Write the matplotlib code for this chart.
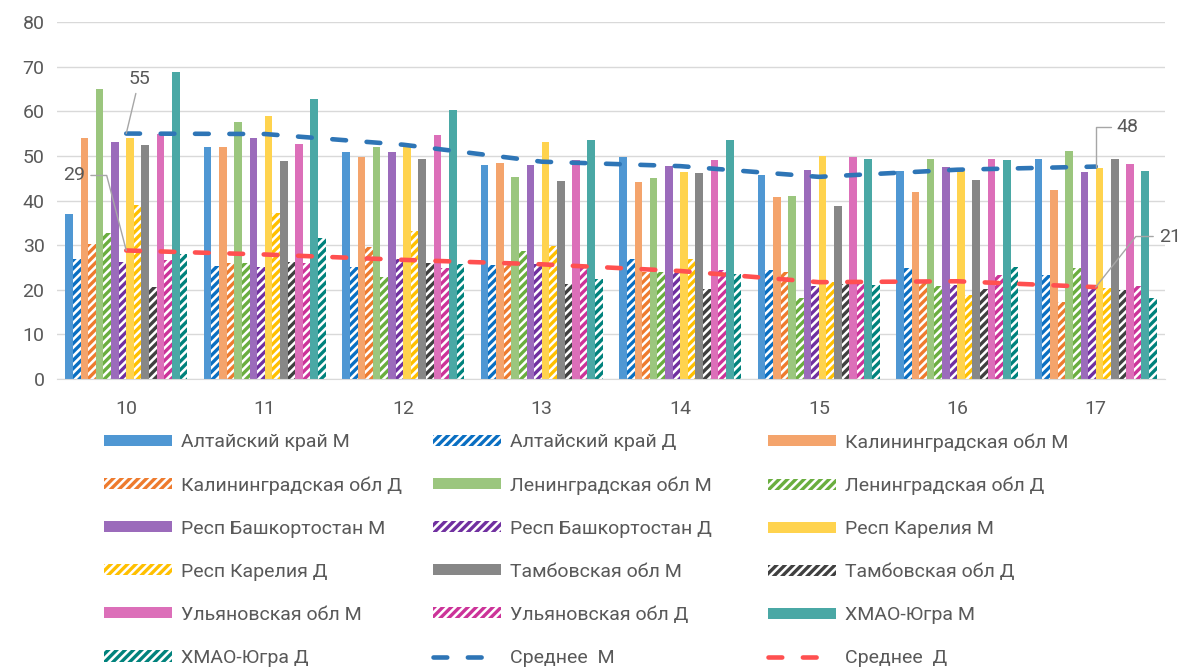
import numpy as np
import matplotlib.pyplot as plt

plt.rcParams['font.family'] = ['Roboto', 'DejaVu Sans']
plt.rcParams['hatch.linewidth'] = 2.4

years = ['10', '11', '12', '13', '14', '15', '16', '17']
regions = ['Алтайский край', 'Калининградская обл', 'Ленинградская обл',
           'Респ Башкортостан', 'Респ Карелия', 'Тамбовская обл',
           'Ульяновская обл', 'ХМАО-Югра']

# М
altai_m = [37.0, 52.1, 50.8, 48.0, 49.7, 45.8, 46.5, 49.4]
kalin_m = [54.0, 52.1, 49.7, 48.5, 44.1, 40.7, 41.9, 42.4]
lenin_m = [65.0, 57.5, 52.1, 45.2, 45.0, 41.0, 49.4, 51.2]
bashk_m = [53.1, 53.9, 50.8, 48.0, 47.8, 46.9, 47.4, 46.3]
karel_m = [53.9, 58.9, 52.7, 53.0, 46.3, 49.9, 46.5, 47.3]
tamb_m = [52.5, 48.9, 49.4, 44.4, 46.1, 38.8, 44.6, 49.4]
ulyan_m = [55.0, 52.7, 54.7, 49.1, 49.1, 49.7, 49.4, 48.2]
hmao_m = [68.9, 62.8, 60.2, 53.6, 53.6, 49.4, 49.1, 46.5]

# Д
altai_d = [27.0, 25.4, 25.0, 25.5, 26.8, 24.5, 24.8, 23.4]
kalin_d = [30.2, 25.9, 29.5, 26.5, 24.0, 24.0, 21.5, 17.3]
lenin_d = [32.7, 25.9, 22.9, 28.7, 24.0, 18.2, 20.8, 24.8]
bashk_d = [26.3, 25.0, 26.8, 25.7, 24.0, 20.8, 21.0, 20.1]
karel_d = [38.9, 37.1, 33.2, 29.9, 26.8, 21.8, 18.8, 20.3]
tamb_d = [20.6, 26.3, 25.9, 21.2, 20.1, 21.4, 20.1, 19.9]
ulyan_d = [26.6, 25.9, 24.8, 25.4, 24.5, 21.5, 23.4, 20.9]
hmao_d = [28.0, 31.5, 25.7, 22.5, 23.5, 21.0, 25.1, 18.2]

# средние по регионам
mean_m = [55.0, 54.9, 52.5, 48.7, 47.7, 45.3, 46.9, 47.6]
mean_d = [28.8, 27.9, 26.7, 25.7, 24.2, 21.7, 21.9, 20.6]

vals_m = [altai_m, kalin_m, lenin_m, bashk_m, karel_m, tamb_m, ulyan_m, hmao_m]
vals_d = [altai_d, kalin_d, lenin_d, bashk_d, karel_d, tamb_d, ulyan_d, hmao_d]

colors_m = ['#4f97d3', '#f4a46c', '#9bc67e', '#9b6bbb',
            '#ffd34e', '#878787', '#dc6fb9', '#4aa8a5']
colors_d = ['#0a6fc2', '#ee7b2e', '#6aae3f', '#7030a0',
            '#ffc000', '#404040', '#cc3399', '#00827c']

txt = '#595959'

fig = plt.figure(figsize=(11.83, 6.69), dpi=100)
ax = fig.add_axes([57 / 1183, 1 - 379 / 669, 1108 / 1183, 357 / 669])

x = np.arange(len(years))
n = 2 * len(regions)
group = 0.88
w = group / n

handles = []
for i, name in enumerate(regions):
    k = 2 * i
    b1 = ax.bar(x - group / 2 + w * (k + 0.5), vals_m[i], w,
                color=colors_m[i], linewidth=0, label=name + ' М', zorder=2)
    b2 = ax.bar(x - group / 2 + w * (k + 1.5), vals_d[i], w,
                facecolor='white', edgecolor=colors_d[i], hatch='////',
                linewidth=0, label=name + ' Д', zorder=2)
    handles += [b1, b2]

l1, = ax.plot(x, mean_m, color='#2e75b6', lw=3.3, ls=(0, (3, 4.5)),
              dash_capstyle='round', label='Среднее  М', zorder=5)
l2, = ax.plot(x, mean_d, color='#ff5050', lw=3.3, ls=(0, (3, 4.5)),
              dash_capstyle='round', label='Среднее  Д', zorder=5)
handles += [l1, l2]

# подписи крайних значений средних
lead = dict(arrowstyle='-', color='#a6a6a6', lw=1, shrinkA=2, shrinkB=0)
ax.annotate(f'{mean_m[0]:.0f}', xy=(x[0], mean_m[0]), xytext=(9.4, 39.3),
            textcoords='offset points', ha='center', va='center',
            fontsize=14, color=txt, arrowprops=lead, zorder=6)
ax.annotate(f'{mean_d[0]:.0f}', xy=(x[0], mean_d[0]), xytext=(-37.4, 54),
            textcoords='offset points', ha='center', va='center',
            fontsize=14, color=txt, zorder=6,
            arrowprops=dict(lead, connectionstyle='angle,angleA=0,angleB=104.6,rad=0'))
ax.annotate(f'{mean_m[-1]:.0f}', xy=(x[-1], mean_m[-1]), xytext=(23, 28.4),
            textcoords='offset points', ha='center', va='center',
            fontsize=14, color=txt, zorder=6, annotation_clip=False,
            arrowprops=dict(lead, connectionstyle='angle,angleA=180,angleB=90,rad=0'))
ax.annotate(f'{mean_d[-1]:.0f}', xy=(x[-1], mean_d[-1]), xytext=(53.3, 36.4),
            textcoords='offset points', ha='center', va='center',
            fontsize=14, color=txt, zorder=6, annotation_clip=False,
            arrowprops=dict(lead, connectionstyle='angle,angleA=0,angleB=51.6,rad=0'))

ax.set_xlim(-0.5, len(years) - 0.5)
ax.set_ylim(0, 80)
ax.set_yticks(range(0, 81, 10))
ax.set_xticks(x)
ax.set_xticklabels(years)
ax.grid(axis='y', color='#d9d9d9', lw=1, zorder=0)
ax.set_axisbelow(True)
for s in ['top', 'right', 'left']:
    ax.spines[s].set_visible(False)
ax.spines['bottom'].set_color('#d9d9d9')
ax.tick_params(axis='both', length=0, labelsize=14, colors=txt)
ax.tick_params(axis='x', pad=15)
ax.tick_params(axis='y', pad=9)

# легенда: 3 колонки одинаковой ширины, записи идут по строкам
cols = 3
col_left = [104, 433, 768]
for c in range(cols):
    hs = handles[c::cols]
    fig.legend(hs, [h.get_label() for h in hs],
               loc='upper left', bbox_to_anchor=(col_left[c] / 1183, 1 - 433 / 669),
               ncol=1, frameon=False, fontsize=14, labelcolor=txt,
               handlelength=3.5, handleheight=0.5, handletextpad=0.45,
               labelspacing=1.29, borderpad=0, borderaxespad=0)

fig.savefig('out.png', dpi=100)
